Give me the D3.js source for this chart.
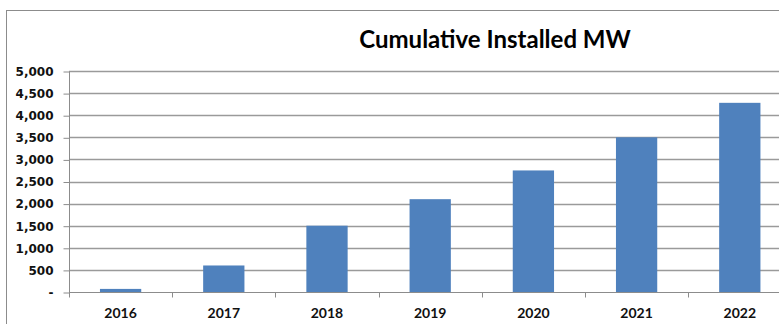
<!DOCTYPE html>
<html lang="en">
<head>
  <meta charset="UTF-8">
  <title>Cumulative Installed MW</title>
  <script src="https://cdn.jsdelivr.net/npm/d3@7"></script>
  <style>
    body { margin: 0; background: #fff; }
    .tick text { font-family: Lato, "Open Sans", sans-serif; font-weight: bold; font-size: 14px; fill: #111; }
    .y-axis .tick text { font-family: "DejaVu Sans", sans-serif; font-size: 12px; }
    .title { font-family: Lato, "Open Sans", sans-serif; font-weight: bold; font-size: 24px; fill: #000; }
  </style>
</head>
<body>
  <svg width="779" height="324"></svg>
  <script>
    var years = ['2016', '2017', '2018', '2019', '2020', '2021', '2022'];
    var installedMW = [70, 600, 1500, 2100, 2750, 3500, 4280];
    var yTicks = [0, 500, 1000, 1500, 2000, 2500, 3000, 3500, 4000, 4500, 5000];

    var svg = d3.select('svg');
    var plotLeft = 69, plotTop = 71, plotBottom = 292;
    var step = 103.2;

    // outer frame (cut off on the right and bottom)
    svg.append('rect')
    .attr('x', 6.5).attr('y', 10.5)
    .attr('width', 800).attr('height', 400)
    .attr('fill', 'none')
    .attr('stroke', '#8c8c8c');

    svg.append('text')
    .attr('class', 'title')
    .attr('x', 495).attr('y', 48)
    .attr('text-anchor', 'middle')
    .text('Cumulative Installed MW');

    var xScale = d3.scaleBand()
    .domain(years)
    .range([plotLeft, plotLeft + step * years.length])
    .paddingInner(0.6).paddingOuter(0.3);

    var yScale = d3.scaleLinear()
    .domain([0, 5000])
    .range([plotBottom, plotTop]);

    // gridlines
    svg.append('g')
    .selectAll('line')
    .data(yTicks.slice(1))
    .enter()
    .append('line')
    .attr('x1', plotLeft).attr('x2', 779)
    .attr('y1', function(d) { return Math.round(yScale(d)) + 0.5; })
    .attr('y2', function(d) { return Math.round(yScale(d)) + 0.5; })
    .attr('stroke', '#9a9a9a')
    .attr('stroke-width', 1.3);

    svg.append('g')
    .selectAll('rect')
    .data(installedMW)
    .enter()
    .append('rect')
    .attr('x', function(d, i) { return xScale(years[i]); })
    .attr('y', function(d) { return yScale(d); })
    .attr('width', xScale.bandwidth())
    .attr('height', function(d) { return plotBottom - yScale(d); })
    .attr('fill', '#4f81bd');

    var yAxis = svg.append('g')
    .attr('class', 'y-axis')
    .attr('transform', 'translate(' + (plotLeft + 0.5) + ',0.5)')
    .call(d3.axisLeft(yScale)
      .tickValues(yTicks)
      .tickSize(6)
      .tickPadding(10)
      .tickFormat(function(d) { return d === 0 ? '-' : d3.format(',')(d); }));
    yAxis.select('.domain').attr('stroke', '#8c8c8c').attr('d', 'M0,' + plotTop + 'V' + (plotBottom + 5));
    yAxis.selectAll('.tick line').attr('stroke', '#8c8c8c');

    // x axis with ticks between categories
    var xAxis = svg.append('g')
    .attr('transform', 'translate(0,' + (plotBottom + 0.5) + ')');
    xAxis.append('line')
    .attr('x1', plotLeft).attr('x2', 779)
    .attr('stroke', '#8c8c8c');
    xAxis.selectAll('.sep')
    .data(d3.range(1, years.length))
    .enter()
    .append('line')
    .attr('x1', function(i) { return Math.round(plotLeft + i * step) + 0.5; })
    .attr('x2', function(i) { return Math.round(plotLeft + i * step) + 0.5; })
    .attr('y1', 0).attr('y2', 5)
    .attr('stroke', '#8c8c8c');
    xAxis.selectAll('.tick')
    .data(years)
    .enter()
    .append('g')
    .attr('class', 'tick')
    .append('text')
    .attr('x', function(d) { return xScale(d) + xScale.bandwidth() / 2; })
    .attr('y', 25)
    .attr('text-anchor', 'middle')
    .text(function(d) { return d; });
  </script>
</body>
</html>
